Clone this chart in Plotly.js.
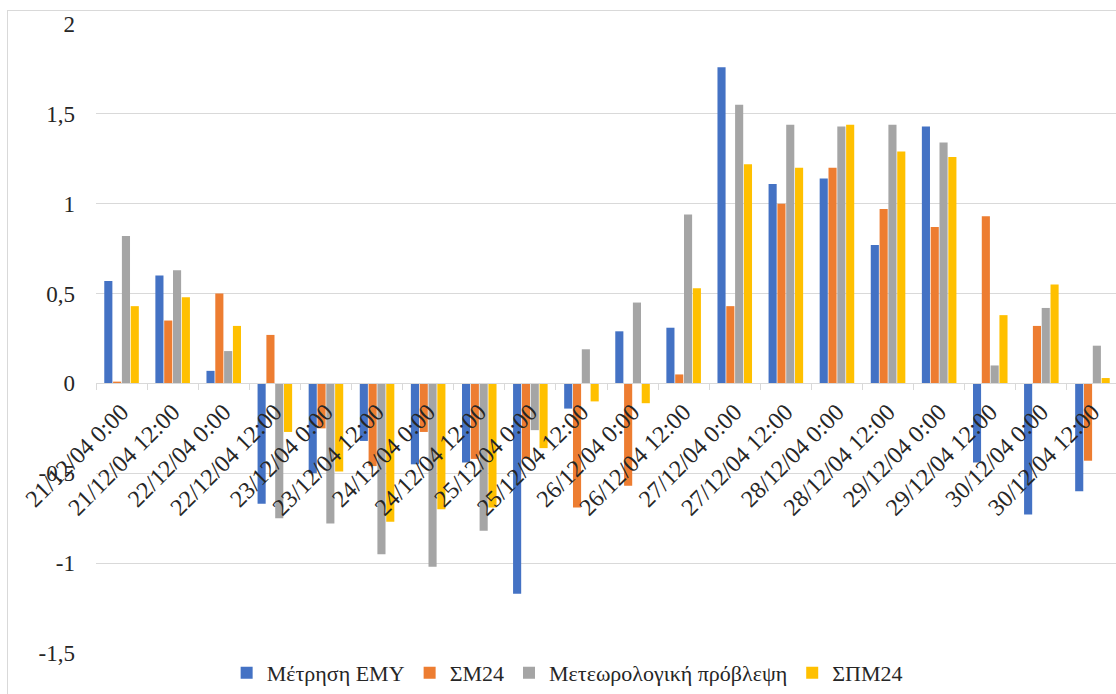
<!DOCTYPE html>
<html>
<head>
<meta charset="utf-8">
<script src="https://cdn.plot.ly/plotly-3.0.1.min.js"></script>
<style>
html, body { margin: 0; padding: 0; overflow: hidden; background: #fff; width: 1116px; height: 694px; }
#chart { position: absolute; left: 0; top: 0; width: 1118px; height: 694px; }
#frame { position: absolute; left: 7px; top: 10px; width: 1200px; height: 800px; border: 1px solid #d9d9d9; pointer-events: none; }
</style>
</head>
<body>
<div id="chart"></div>
<div id="frame"></div>
<script>
const categories = ['21/12/04 0:00','21/12/04 12:00','22/12/04 0:00','22/12/04 12:00','23/12/04 0:00','23/12/04 12:00','24/12/04 0:00','24/12/04 12:00','25/12/04 0:00','25/12/04 12:00','26/12/04 0:00','26/12/04 12:00','27/12/04 0:00','27/12/04 12:00','28/12/04 0:00','28/12/04 12:00','29/12/04 0:00','29/12/04 12:00','30/12/04 0:00','30/12/04 12:00'];
const seriesNames = ['Μέτρηση ΕΜΥ', 'ΣΜ24', 'Μετεωρολογική πρόβλεψη', 'ΣΠΜ24'];
const emy   = [0.57, 0.60, 0.07, -0.67, -0.50, -0.32, -0.45, -0.44, -1.17, -0.14, 0.29, 0.31, 1.76, 1.11, 1.14, 0.77, 1.43, -0.44, -0.73, -0.60];
const sm24  = [0.01, 0.35, 0.50, 0.27, -0.25, -0.46, -0.27, -0.42, -0.42, -0.69, -0.57, 0.05, 0.43, 1.00, 1.20, 0.97, 0.87, 0.93, 0.32, -0.43];
const meteo = [0.82, 0.63, 0.18, -0.75, -0.78, -0.95, -1.02, -0.82, -0.26, 0.19, 0.45, 0.94, 1.55, 1.44, 1.43, 1.44, 1.34, 0.10, 0.42, 0.21];
const spm24 = [0.43, 0.48, 0.32, -0.27, -0.49, -0.77, -0.70, -0.69, -0.36, -0.10, -0.11, 0.53, 1.22, 1.20, 1.44, 1.29, 1.26, 0.38, 0.55, 0.03];
const yTickVals = [-1.5, -1, -0.5, 0, 0.5, 1, 1.5, 2];
const yTickText = ['-1,5', '-1', '-0,5', '0', '0,5', '1', '1,5', '2'];
const colors = ['#4472C4', '#ED7D31', '#A5A5A5', '#FFC000'];

const yRange = [yTickVals[0], yTickVals[yTickVals.length - 1]];
const zeroPos = (0 - yRange[0]) / (yRange[1] - yRange[0]);

const allSeries = [emy, sm24, meteo, spm24];
const traces = allSeries.map((vals, i) => ({
  type: 'bar',
  name: seriesNames[i],
  x: categories,
  y: vals,
  marker: { color: colors[i], line: { width: 0 } },
  hoverinfo: 'x+y+name'
}));

const font = "'Liberation Serif', 'Times New Roman', serif";
const layout = {
  width: 1118, height: 694,
  margin: { l: 96, r: 0, t: 24, b: 38 },
  paper_bgcolor: 'rgba(0,0,0,0)',
  plot_bgcolor: 'rgba(0,0,0,0)',
  barmode: 'group',
  bargap: 0.31,
  bargroupgap: 0.08,
  font: { family: font, color: '#262626' },
  xaxis: {
    type: 'category',
    anchor: 'free',
    position: zeroPos,
    showline: true, linecolor: '#d9d9d9', linewidth: 1,
    showgrid: false,
    ticks: 'outside', tickson: 'boundaries', ticklen: 6, tickcolor: '#d9d9d9',
    tickangle: -45,
    ticklabelstandoff: 4,
    tickfont: { family: font, size: 24, color: '#262626' },
    automargin: false
  },
  yaxis: {
    range: yRange,
    tickvals: yTickVals,
    ticktext: yTickText,
    showgrid: true, gridcolor: '#d9d9d9', gridwidth: 1,
    zeroline: false,
    showline: false,
    ticks: '',
    ticklabelstandoff: 20,
    tickfont: { family: font, size: 23, color: '#262626' },
    automargin: false
  },
  showlegend: true,
  legend: {
    orientation: 'h',
    x: 0.461, xanchor: 'center',
    y: -0.032, yanchor: 'middle',
    font: { family: font, size: 22, color: '#262626' },
    itemwidth: 30,
    tracegroupgap: 0,
    bgcolor: 'rgba(0,0,0,0)'
  }
};

Plotly.newPlot('chart', traces, layout, { displayModeBar: false, staticPlot: true });
</script>
</body>
</html>
